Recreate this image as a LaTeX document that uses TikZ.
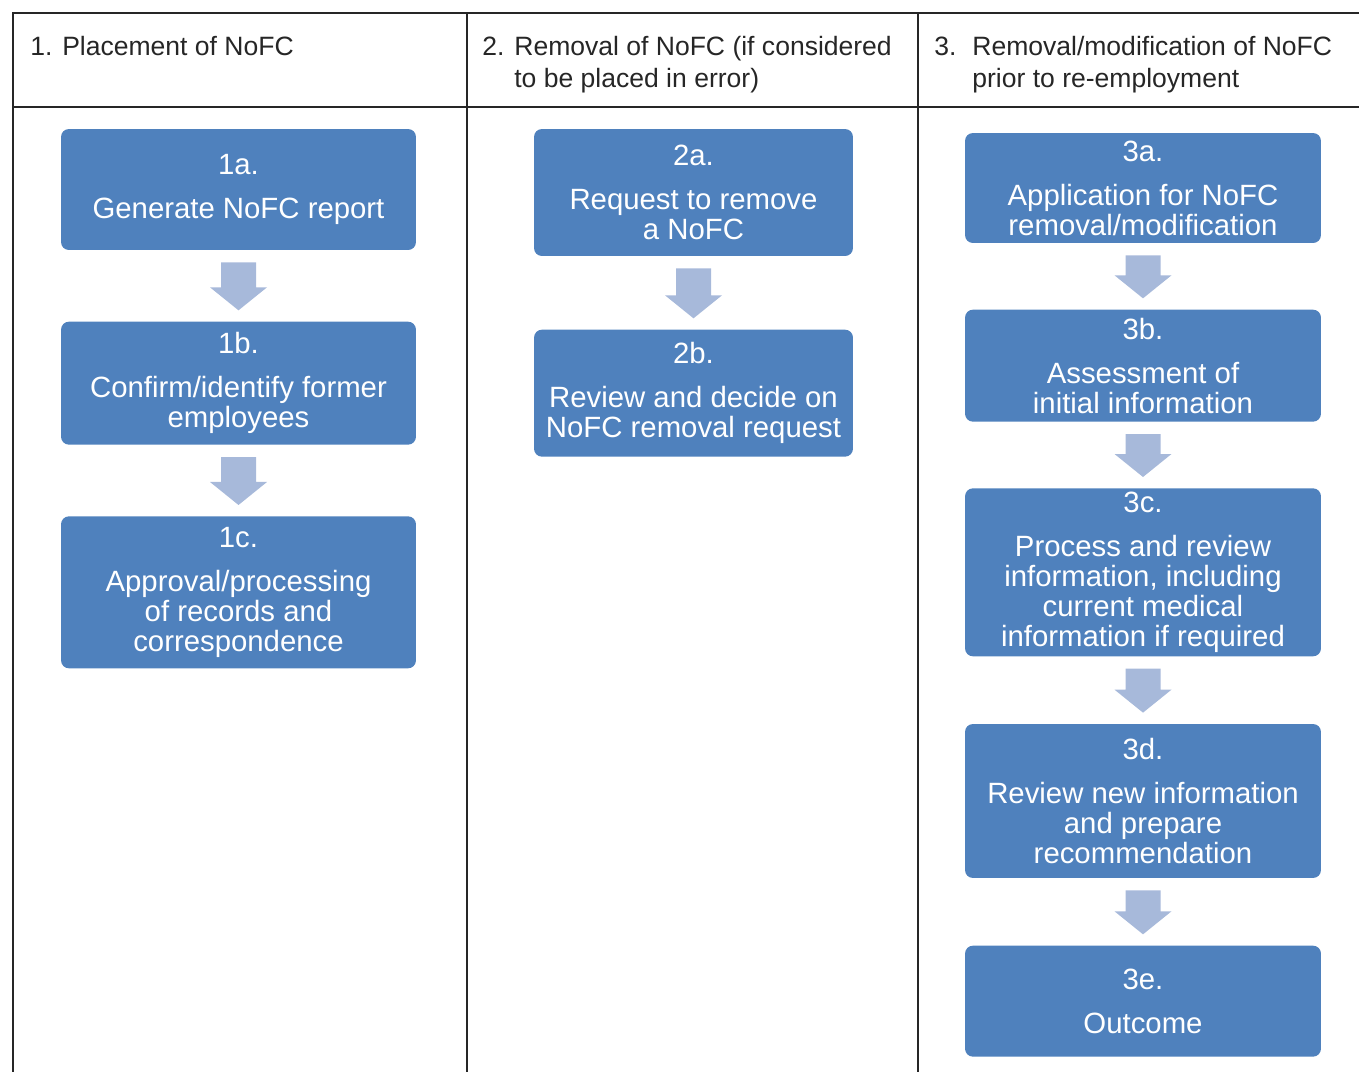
\documentclass[tikz,border=0pt]{standalone}
\usepackage{fontspec}
\setmainfont{Liberation Sans}
\usetikzlibrary{positioning, calc}
\definecolor{boxblue}{RGB}{79,129,189}
\definecolor{arrowblue}{RGB}{167,185,218}
\tikzset{
  stepbox/.style = {
    rectangle, rounded corners=4.5pt, fill=boxblue,
    text=white, align=center, inner sep=0pt,
    minimum width=7.1cm, font=\fontsize{16.7pt}{17pt}\selectfont
  },
  headtext/.style = {
    anchor=base west, inner sep=0pt, align=left, text=black!85,
    font=\fontsize{15.1pt}{18.14pt}\selectfont
  },
  gridline/.style = {draw=black!85, line width=1pt},
  downarrow/.style = {fill=arrowblue}
}
% block arrow from the bottom of one box to the top of the next
\newcommand{\flowarrow}[2]{%
  \fill[downarrow] ($(#1.south)+(-17.5,12)$) -- ($(#1.south)+(17.5,12)$)
    -- ($(#2.north)+(17.5,-34)$) -- ($(#2.north)+(28.5,-34)$)
    -- ($(#2.north)+(0,-11)$) -- ($(#2.north)+(-28.5,-34)$)
    -- ($(#2.north)+(-17.5,-34)$) -- cycle;}

\begin{document}
\begin{tikzpicture}[x=0.02cm, y=-0.02cm]
  \useasboundingbox (0,0) rectangle (1359,1072);
  % Table frame
  \draw[gridline] (1359,13) -- (13,13) -- (13,1072);
  \draw[gridline] (13,107) -- (1359,107);
  \draw[gridline] (467,13) -- (467,1072);
  \draw[gridline] (918,13) -- (918,1072);
  % Column headers (base = last line)
  \node[headtext] (h1)    at (30,55)  {1. Placement of NoFC};
  \node[headtext] (h2num) at (482,55) {2.};
  \node[headtext] (h2)    at (514,87) {Removal of NoFC (if considered\\to be placed in error)};
  \node[headtext] (h3num) at (934,55) {3.};
  \node[headtext] (h3)    at (972,87) {Removal/modification of NoFC\\prior to re-employment};
  % Column 1
  \node[stepbox, minimum height=2.42cm] (s1a) at (238.5,189.5)
    {1a.\\[8pt]Generate NoFC report};
  \node[stepbox, minimum height=2.46cm, below=1.42cm of s1a] (s1b)
    {1b.\\[8pt]Confirm/identify former\\employees};
  \node[stepbox, minimum height=3.04cm, below=1.42cm of s1b] (s1c)
    {1c.\\[8pt]Approval/processing\\of records and\\correspondence};
  % Column 2
  \node[stepbox, minimum width=6.38cm, minimum height=2.54cm] (s2a) at (693.5,192.5)
    {2a.\\[8pt]Request to remove\\a NoFC};
  \node[stepbox, minimum width=6.38cm, minimum height=2.54cm, below=1.46cm of s2a] (s2b)
    {2b.\\[8pt]Review and decide on\\NoFC removal request};
  % Column 3
  \node[stepbox, minimum width=7.12cm, minimum height=2.2cm] (s3a) at (1143,188)
    {3a.\\[8pt]Application for NoFC\\removal/modification};
  \node[stepbox, minimum width=7.12cm, minimum height=2.24cm, below=1.32cm of s3a] (s3b)
    {3b.\\[8pt]Assessment of\\initial information};
  \node[stepbox, minimum width=7.12cm, minimum height=3.36cm, below=1.32cm of s3b] (s3c)
    {3c.\\[8pt]Process and review\\information, including\\current medical\\information if required};
  \node[stepbox, minimum width=7.12cm, minimum height=3.08cm, below=1.34cm of s3c] (s3d)
    {3d.\\[8pt]Review new information\\and prepare\\recommendation};
  \node[stepbox, minimum width=7.12cm, minimum height=2.22cm, below=1.34cm of s3d] (s3e)
    {3e.\\[8pt]Outcome};
  % Arrows
  \flowarrow{s1a}{s1b}
  \flowarrow{s1b}{s1c}
  \flowarrow{s2a}{s2b}
  \flowarrow{s3a}{s3b}
  \flowarrow{s3b}{s3c}
  \flowarrow{s3c}{s3d}
  \flowarrow{s3d}{s3e}
\end{tikzpicture}
\end{document}
